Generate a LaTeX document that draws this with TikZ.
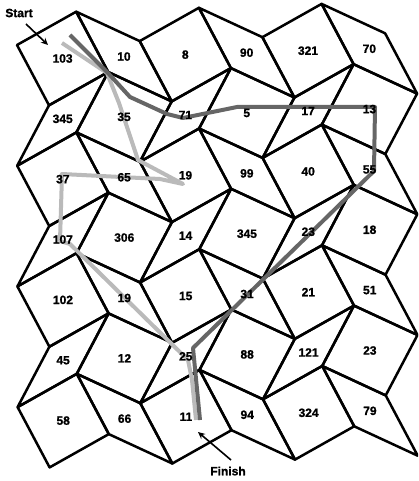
\documentclass[tikz,border=0pt]{standalone}
\usepackage{fontspec}
\setmainfont{Liberation Sans}[BoldFeatures={FakeBold=1.2}]
\usetikzlibrary{arrows.meta}
\begin{document}
\begin{tikzpicture}[x=1pt,y=-1pt,
  tile/.style={draw=black,line width=2.5pt,line join=round},
  lab/.style={font=\bfseries\fontsize{12}{14}\selectfont,inner sep=0pt},
  lightpath/.style={draw=black!27,line width=4pt,line join=round},
  darkpath/.style={draw=black!60,line width=4pt,line join=round},
  pointer/.style={draw=black,line width=1.6pt,-{Stealth[length=7pt,width=6.5pt]}}]
\useasboundingbox (0,0) rectangle (418,481);
\begin{scope}
\clip (0,0) rectangle (418,481);
\foreach \r in {1,...,7}{
  \foreach \k in {1,...,6}{
    \pgfmathsetmacro{\na}{floor(\k/2)}
    \pgfmathsetmacro{\nc}{floor((\k-1)/2)}
    \pgfmathsetmacro{\nh}{floor((\r-1)/2)}
    \pgfmathsetmacro{\ev}{mod(\r+1,2)}
    \pgfmathsetmacro{\od}{mod(\k,2)}
    \pgfmathsetmacro{\px}{17+0.2*\nh+32*\ev+59.2*\na+63.5*\nc}
    \pgfmathsetmacro{\py}{45+120.7*\nh+60.3*\ev-33.3*\na+29.4*\nc}
    \pgfmathsetmacro{\ux}{59.2*\od+63.5*(1-\od)}
    \pgfmathsetmacro{\uy}{-33.3*\od+29.4*(1-\od)}
    \pgfmathsetmacro{\vx}{32*(1-\ev)-31.8*\ev}
    \pgfmathsetmacro{\vy}{60.3*(1-\ev)+60.4*\ev}
    \pgfmathsetmacro{\tBx}{\px+\ux}
    \pgfmathsetmacro{\tBy}{\py+\uy}
    \pgfmathsetmacro{\tCx}{\px+\ux+\vx}
    \pgfmathsetmacro{\tCy}{\py+\uy+\vy}
    \pgfmathsetmacro{\tDx}{\px+\vx}
    \pgfmathsetmacro{\tDy}{\py+\vy}
    \pgfmathsetmacro{\tMx}{\px+0.5*\ux+0.5*\vx}
    \pgfmathsetmacro{\tMy}{\py+0.5*\uy+0.5*\vy}
    \draw[tile] (\px,\py) -- (\tBx,\tBy) -- (\tCx,\tCy) -- (\tDx,\tDy) -- cycle;
    \coordinate (c-\r-\k) at (\tMx,\tMy);
  }
}
\end{scope}
% routes
\draw[lightpath] (62,43) -- (107,73) -- (119,103) -- (138,160) -- (183,184) -- (160,179) -- (62,174) -- (60,241) -- (70,244) -- (188,360) -- (192,380) -- (196,420);
\draw[darkpath] (70,35) -- (108,73) -- (130,97) -- (167,114) -- (183,118) -- (237,107) -- (375,107) -- (374,171) -- (193,348) -- (200,420);
% labels
\foreach \r/\labs in {1/{103,10,8,90,321,70},2/{345,35,71,5,17,13},3/{37,65,19,99,40,55},4/{107,306,14,345,23,18},5/{102,19,15,31,21,51},6/{45,12,25,88,121,23},7/{58,66,11,94,324,79}}{
  \foreach \lab [count=\k] in \labs {
    \node[lab] (t-\r-\k) at (c-\r-\k) {\lab};
  }
}
\node[lab] (start) at (19,13) {Start};
\node[lab] (finish) at (228,471) {Finish};
\coordinate (startTip) at (48,45);
\coordinate (finishTip) at (198,432);
\draw[pointer] (26,24) -- (startTip);
\draw[pointer] (231,460) -- (finishTip);
\end{tikzpicture}
\end{document}
